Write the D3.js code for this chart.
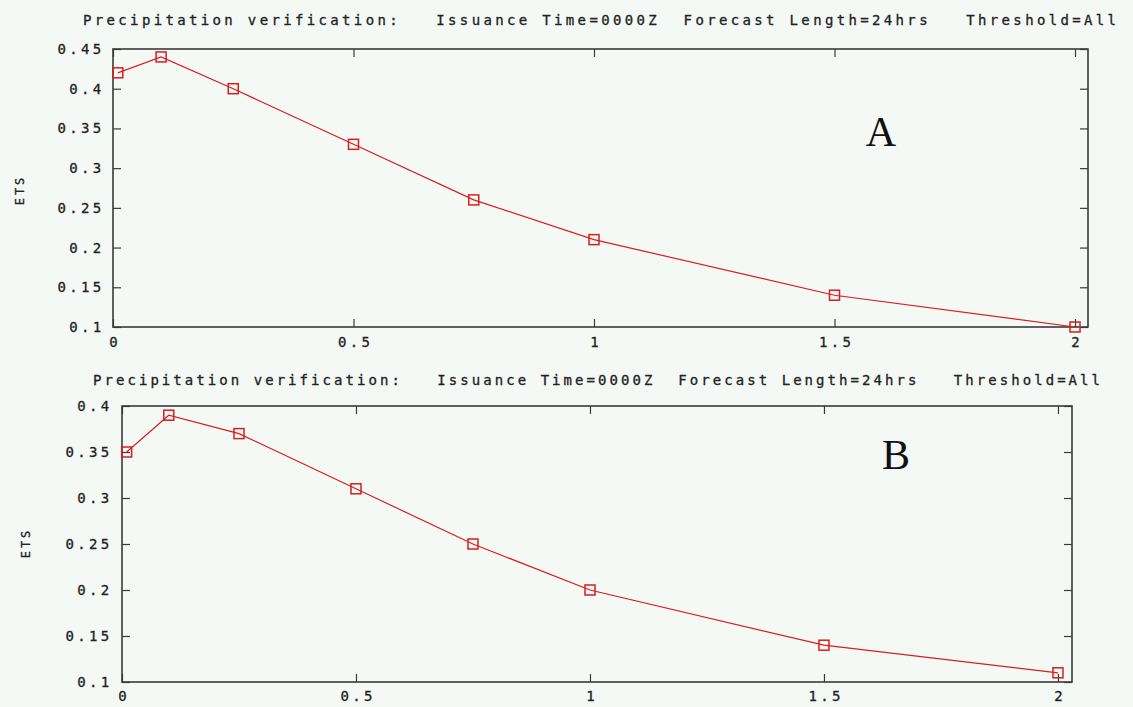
<!DOCTYPE html>
<html>
<head>
<meta charset="utf-8">
<script src="https://cdn.jsdelivr.net/npm/d3@7"></script>
<style>
  html, body { margin: 0; padding: 0; background: #f5f9f6; }
  svg { display: block; }
  .mono { font-family: "DejaVu Sans Mono", monospace; font-size: 14px; fill: #222; stroke: #222; stroke-width: 0.3px; }
  .tick text { font-family: "DejaVu Sans Mono", monospace; font-size: 14px; fill: #222; stroke: #222; stroke-width: 0.3px; letter-spacing: 3.4px; }
</style>
</head>
<body>
<svg width="1133" height="707"></svg>
<script>
// precipitation thresholds (inches) and ETS scores
const thresholds = [0.01, 0.1, 0.25, 0.5, 0.75, 1, 1.5, 2];
const etsA = [0.42, 0.44, 0.40, 0.33, 0.26, 0.21, 0.14, 0.10];
const etsB = [0.35, 0.39, 0.37, 0.31, 0.25, 0.20, 0.14, 0.11];
const xTicks = [0, 0.5, 1, 1.5, 2];
const yTicksA = [0.1, 0.15, 0.2, 0.25, 0.3, 0.35, 0.4, 0.45];
const yTicksB = [0.1, 0.15, 0.2, 0.25, 0.3, 0.35, 0.4];
const titleText = 'Precipitation verification:   Issuance Time=0000Z  Forecast Length=24hrs   Threshold=All';
const yLabel = 'ETS';
const panelLetters = ['A', 'B'];

const svg = d3.select('svg');
const lineColor = '#d81e1e';
const axisColor = '#3a3a3a';

// one panel per run; box = pixel frame of the plot area
function drawPanel(values, yTicks, yMax, box, letter, opt) {
  const x = d3.scaleLinear().domain([0, opt.xMax]).range([box.left, box.right]);
  const y = d3.scaleLinear().domain([0.1, yMax]).range([box.bottom, box.top]);
  const g = svg.append('g');

  svg.append('text').attr('class', 'mono')
    .attr('x', opt.titleX).attr('y', opt.titleY)
    .attr('textLength', opt.titleW).attr('lengthAdjust', 'spacing')
    .style('white-space', 'pre')
    .text(titleText);

  // ticks point inward on all four sides, like gnuplot
  const fmt = d3.format('');
  g.append('g').attr('transform', 'translate(0,' + box.bottom + ')')
    .call(d3.axisBottom(x).tickValues(xTicks).tickSize(-8).tickPadding(opt.xPad).tickFormat(fmt));
  g.append('g').attr('transform', 'translate(0,' + box.top + ')')
    .call(d3.axisTop(x).tickValues(xTicks).tickSize(-8).tickFormat(''));
  g.append('g').attr('transform', 'translate(' + box.left + ',0)')
    .call(d3.axisLeft(y).tickValues(yTicks).tickSize(-8).tickPadding(opt.yPad).tickFormat(fmt));
  g.append('g').attr('transform', 'translate(' + box.right + ',0)')
    .call(d3.axisRight(y).tickValues(yTicks).tickSize(-8).tickFormat(''));
  g.selectAll('.domain').remove();
  g.selectAll('.tick line').attr('stroke', axisColor).attr('stroke-width', 1.2);
  g.selectAll('.tick text').attr('fill', '#222');
  // nudge centred labels right to cancel the trailing letter spacing
  g.selectAll('.tick text').filter(function() { return this.getAttribute('text-anchor') !== 'end'; })
    .attr('dx', '1.7');

  g.append('rect')
    .attr('x', box.left).attr('y', box.top)
    .attr('width', box.right - box.left).attr('height', box.bottom - box.top)
    .attr('fill', 'none').attr('stroke', axisColor).attr('stroke-width', 1.6);

  svg.append('text').attr('class', 'mono')
    .attr('transform', 'translate(' + opt.ylabX + ',' + opt.ylabY + ') rotate(-90)')
    .attr('text-anchor', 'middle').attr('dy', '0.35em')
    .style('font-size', '12px').style('letter-spacing', '3px')
    .text(yLabel);

  const pts = thresholds.map((t, i) => ({t: t, v: values[i]}));
  const line = d3.line().x(d => x(d.t)).y(d => y(d.v));
  g.append('path').datum(pts)
    .attr('fill', 'none').attr('stroke', lineColor).attr('stroke-width', 1.2)
    .attr('d', line);

  g.selectAll('.pt').data(pts).enter().append('rect')
    .attr('x', d => x(d.t) - 5).attr('y', d => y(d.v) - 5)
    .attr('width', 10).attr('height', 10)
    .attr('fill', 'none').attr('stroke', lineColor).attr('stroke-width', 1.5);

  svg.append('text')
    .attr('x', opt.letterX).attr('y', opt.letterY)
    .attr('text-anchor', 'middle')
    .style('font-family', '"Liberation Serif", "Times New Roman", serif')
    .style('font-size', '42px').style('fill', '#111')
    .text(letter);
}

drawPanel(etsA, yTicksA, 0.45,
  {left: 113, right: 1088, top: 49, bottom: 327}, panelLetters[0],
  {xMax: 2.027, titleX: 83, titleY: 25, titleW: 1033, xPad: 10, yPad: 10,
   ylabX: 20, ylabY: 190, letterX: 881, letterY: 146});

drawPanel(etsB, yTicksB, 0.4,
  {left: 122, right: 1072, top: 406, bottom: 682}, panelLetters[1],
  {xMax: 2.03, titleX: 93, titleY: 385, titleW: 1007, xPad: 9, yPad: 11,
   ylabX: 26, ylabY: 543, letterX: 896, letterY: 469});
</script>
</body>
</html>
